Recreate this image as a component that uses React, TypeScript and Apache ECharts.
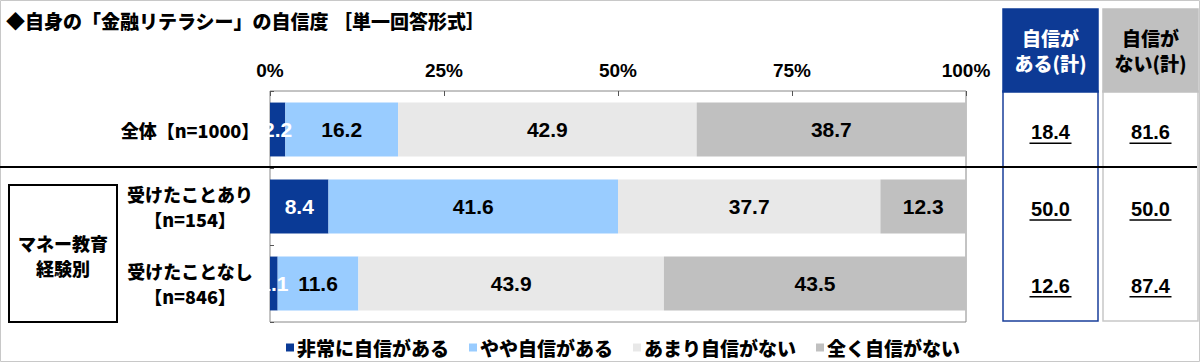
import React, { useEffect, useRef } from "react";
import * as echarts from "echarts";

const categories = ["全体【n=1000】", "受けたことあり\n【n=154】", "受けたことなし\n【n=846】"];
const seriesNames = ["非常に自信がある", "やや自信がある", "あまり自信がない", "全く自信がない"];
const seriesColors = ["#0a3a96", "#99ccff", "#e8e8e8", "#c0c0c0"];
const veryConfident = [2.2, 8.4, 1.1];
const somewhatConfident = [16.2, 41.6, 11.6];
const notVeryConfident = [42.9, 37.7, 43.9];
const notAtAllConfident = [38.7, 12.3, 43.5];
const confidentTotal = [18.4, 50.0, 12.6];
const notConfidentTotal = [81.6, 50.0, 87.4];

const JP = '"Noto Sans CJK JP", "Noto Sans", sans-serif';
const NUM = '"Liberation Sans", Arial, sans-serif';
const NARROW = '"Liberation Sans Narrow", "Arial Narrow", "Liberation Sans", sans-serif';

export default function App() {
  const ref = useRef<HTMLDivElement>(null);
  useEffect(() => {
    if (!ref.current) return;
    const chart = echarts.init(ref.current, null, { renderer: "svg" });
    const allSeries = [veryConfident, somewhatConfident, notVeryConfident, notAtAllConfident];

    const makeTotal = (values: number[], idx: number) => ({
      type: "custom",
      xAxisIndex: idx,
      yAxisIndex: idx,
      silent: true,
      data: values.map((v, i) => [0.5, i, v]),
      renderItem: (params: any, api: any) => {
        const p = api.coord([api.value(0), api.value(1)]);
        const txt = Number(api.value(2)).toFixed(1);
        return {
          type: "group",
          children: [
            {
              type: "text",
              x: p[0],
              y: p[1] + 3,
              style: {
                text: txt,
                fill: "#000",
                font: `bold 20px ${NUM}`,
                align: "center",
                verticalAlign: "middle",
              },
            },
            {
              type: "line",
              shape: { x1: p[0] - 21, y1: p[1] + 14, x2: p[0] + 21, y2: p[1] + 14 },
              style: { stroke: "#000", lineWidth: 1.5 },
            },
          ],
        };
      },
    });

    const option: any = {
      animation: false,
      backgroundColor: "#fff",
      legend: {
        data: seriesNames,
        left: 281,
        top: 333,
        icon: "rect",
        itemWidth: 8,
        itemHeight: 8,
        itemGap: 20,
        textStyle: { fontFamily: JP, fontSize: 19, fontWeight: 900, color: "#000", padding: [0, 0, 0, -2] },
      },
      grid: [
        { left: 270, top: 91, width: 696, height: 231, show: true, borderColor: "#888", borderWidth: 1, backgroundColor: "transparent" },
        { left: 1003, top: 91, width: 95, height: 230, show: true, borderColor: "#1a3f9a", borderWidth: 1.5, backgroundColor: "transparent" },
        { left: 1103, top: 91, width: 95, height: 230, show: true, borderColor: "#c8c8c8", borderWidth: 1.5, backgroundColor: "transparent" },
      ],
      xAxis: [
        {
          gridIndex: 0,
          type: "value",
          position: "top",
          min: 0,
          max: 100,
          interval: 25,
          axisLine: { show: false },
          splitLine: { show: false },
          axisTick: { show: true, inside: true, length: 5, lineStyle: { color: "#555" } },
          axisLabel: {
            formatter: "{value}%",
            fontFamily: NUM,
            fontSize: 19,
            fontWeight: "bold",
            color: "#000",
            margin: 11,
          },
        },
        { gridIndex: 1, type: "value", min: 0, max: 1, show: false },
        { gridIndex: 2, type: "value", min: 0, max: 1, show: false },
      ],
      yAxis: [
        {
          gridIndex: 0,
          type: "category",
          data: categories,
          inverse: true,
          axisLine: { show: false },
          axisTick: { show: true, inside: true, length: 4, lineStyle: { color: "#555" } },
          axisLabel: {
            margin: 12,
            formatter: (v: string) => v.split("\n").map((s) => `{c|${s}}`).join("\n"),
            rich: {
              c: { width: 136, align: "center", fontFamily: JP, fontSize: 18, fontWeight: 900, color: "#000", lineHeight: 25 },
            },
          },
        },
        { gridIndex: 1, type: "category", data: categories, inverse: true, show: false },
        { gridIndex: 2, type: "category", data: categories, inverse: true, show: false },
      ],
      series: [
        ...allSeries.map((d, i) => ({
          name: seriesNames[i],
          type: "bar",
          stack: "total",
          barWidth: "70%",
          xAxisIndex: 0,
          yAxisIndex: 0,
          data: d,
          itemStyle: { color: seriesColors[i] },
          label: {
            show: true,
            position: "inside",
            formatter: (p: any) => Number(p.value).toFixed(1),
            color: i === 0 ? "#fff" : "#000",
            fontFamily: NARROW,
            fontSize: 21,
            fontWeight: "bold",
          },
        })),
        makeTotal(confidentTotal, 1),
        makeTotal(notConfidentTotal, 2),
      ],
      graphic: [
        {
          type: "rect",
          shape: { x: 0.5, y: 0.5, width: 1199, height: 361 },
          style: { fill: "none", stroke: "#c8c8c8", lineWidth: 1 },
          z: -1,
        },
        {
          type: "text",
          x: 6,
          y: 20,
          style: {
            text: "◆自身の「金融リテラシー」の自信度 ［単一回答形式］",
            font: `900 19px ${JP}`,
            fill: "#000",
            verticalAlign: "middle",
          },
        },
        {
          type: "line",
          shape: { x1: 0, y1: 167, x2: 1197, y2: 167 },
          style: { stroke: "#000", lineWidth: 2 },
          z: 10,
        },
        {
          type: "rect",
          shape: { x: 9, y: 185, width: 108, height: 137 },
          style: { fill: "#fff", stroke: "#000", lineWidth: 2 },
        },
        {
          type: "text",
          x: 63,
          y: 255,
          style: {
            text: "マネー教育\n経験別",
            font: `900 18px ${JP}`,
            fill: "#000",
            align: "center",
            verticalAlign: "middle",
            lineHeight: 25,
          },
        },
        {
          type: "rect",
          shape: { x: 1003, y: 9, width: 95, height: 83 },
          style: { fill: "#0d3a95", stroke: "#0d3a95", lineWidth: 1.5 },
        },
        {
          type: "text",
          x: 1050.5,
          y: 50,
          style: {
            text: "自信が\nある(計)",
            font: `900 19px ${JP}`,
            fill: "#fff",
            align: "center",
            verticalAlign: "middle",
            lineHeight: 25,
          },
        },
        {
          type: "rect",
          shape: { x: 1103, y: 9, width: 95, height: 83 },
          style: { fill: "#c0c0c0", stroke: "#c0c0c0", lineWidth: 1.5 },
        },
        {
          type: "text",
          x: 1150.5,
          y: 50,
          style: {
            text: "自信が\nない(計)",
            font: `900 19px ${JP}`,
            fill: "#000",
            align: "center",
            verticalAlign: "middle",
            lineHeight: 25,
          },
        },
      ],
    };
    chart.setOption(option);
    return () => chart.dispose();
  }, []);
  return (
    <div
      ref={ref}
      style={{ position: "absolute", left: 0, top: 0, width: 1200, height: 362, background: "#fff" }}
    />
  );
}
